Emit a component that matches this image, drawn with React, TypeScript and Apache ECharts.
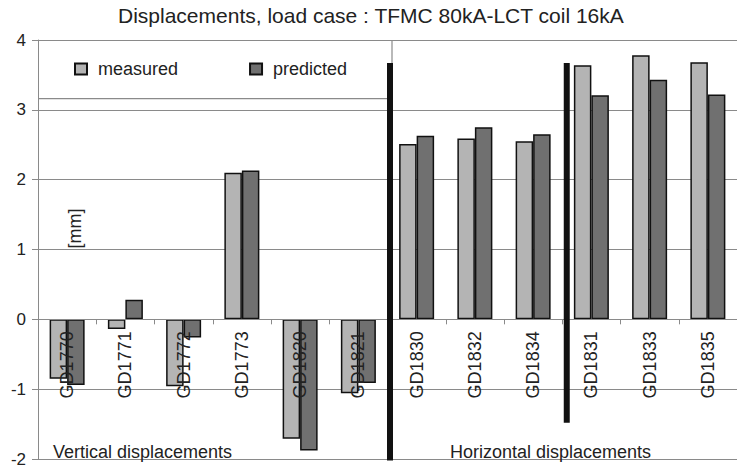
import React, { useEffect, useRef } from "react";
import * as echarts from "echarts";

const categories = [
  "GD1770", "GD1771", "GD1772", "GD1773", "GD1820", "GD1821",
  "GD1830", "GD1832", "GD1834", "GD1831", "GD1833", "GD1835",
];
const measured = [-0.85, -0.14, -0.96, 2.1, -1.71, -1.06, 2.51, 2.59, 2.55, 3.64, 3.78, 3.68];
const predicted = [-0.94, 0.28, -0.26, 2.13, -1.88, -0.91, 2.63, 2.75, 2.65, 3.21, 3.43, 3.22];
const yMin = -2;
const yMax = 4;
const yInterval = 1;
const titleText = "Displacements, load case : TFMC 80kA-LCT coil 16kA";
const unitText = "[mm]";
const groupLabels = ["Vertical displacements", "Horizontal displacements"];
// separators: after category index, top value, bottom value
const separatorAfter = [5, 8];
const separatorTop = [3.67, 3.67];
const separatorBottom = [-2.02, -1.48];
const legendBoxBottomValue = 3.16;

const FONT = "'Liberation Sans', Arial, Helvetica, sans-serif";
const TEXT = "#222";
const GRIDC = "#8a8a8a";

const GRID_TOP = 40;
const GRID_BOTTOM = 9;
const HEIGHT = 468;

export default function App() {
  const ref = useRef<HTMLDivElement>(null);
  useEffect(() => {
    if (!ref.current) return;
    const chart = echarts.init(ref.current, null, { renderer: "svg" });
    const gridH = HEIGHT - GRID_TOP - GRID_BOTTOM;
    const zeroOffset = ((0 - yMin) / (yMax - yMin)) * gridH;
    const option: any = {
      animation: false,
      backgroundColor: "#fff",
      textStyle: { fontFamily: FONT },
      title: {
        text: titleText,
        left: 118,
        top: 5,
        padding: 0,
        textStyle: { fontFamily: FONT, fontSize: 21, fontWeight: "normal", color: TEXT },
      },
      legend: {
        left: 74,
        top: 60,
        padding: 0,
        itemWidth: 12,
        itemHeight: 11,
        itemGap: 71,
        icon: "rect",
        textStyle: { fontFamily: FONT, fontSize: 18, color: TEXT, padding: [0, 0, 0, 6] },
        data: ["measured", "predicted"],
      },
      grid: {
        left: 38,
        right: 0,
        top: GRID_TOP,
        bottom: GRID_BOTTOM,
        containLabel: false,
        outerBoundsMode: "none",
      },
      xAxis: {
        type: "category",
        data: categories,
        z: 10,
        position: "bottom",
        offset: -zeroOffset,
        axisLine: { onZero: false, lineStyle: { color: GRIDC, width: 1 } },
        axisTick: { show: true, length: 5, lineStyle: { color: GRIDC } },
        axisLabel: {
          rotate: 90,
          interval: 0,
          margin: 12,
          fontSize: 18,
          fontFamily: FONT,
          color: TEXT,
          hideOverlap: false,
        },
        splitLine: { show: false },
      },
      yAxis: {
        type: "value",
        min: yMin,
        max: yMax,
        interval: yInterval,
        axisLine: { show: true, lineStyle: { color: GRIDC } },
        axisTick: { show: true, length: 6, lineStyle: { color: GRIDC } },
        axisLabel: { fontSize: 17, fontFamily: FONT, color: TEXT, margin: 12 },
        splitLine: { show: true, lineStyle: { color: GRIDC, width: 1 } },
      },
      series: [
        {
          name: "measured",
          type: "bar",
          data: measured,
          barWidth: 17.5,
          barGap: "0%",
          itemStyle: { color: "#b4b4b4", borderColor: "#111", borderWidth: 1.5 },
        },
        {
          name: "predicted",
          type: "bar",
          data: predicted,
          barWidth: 17.5,
          barGap: "0%",
          itemStyle: { color: "#707070", borderColor: "#111", borderWidth: 1.5 },
        },
      ],
    };
    chart.setOption(option);

    const px = (i: number, v: number) =>
      chart.convertToPixel({ gridIndex: 0 }, [i, v]) as number[];
    const offsets = [2.5, 4.5];
    const graphics: any[] = [];
    const sepX: number[] = [];
    separatorAfter.forEach((a, k) => {
      const x = (px(a, 0)[0] + px(a + 1, 0)[0]) / 2 + offsets[k];
      sepX.push(x);
      const yt = px(a, separatorTop[k])[1];
      const yb = px(a, separatorBottom[k])[1];
      graphics.push({
        type: "rect",
        z: 20,
        shape: { x: x - 3, y: yt, width: 6, height: yb - yt },
        style: { fill: "#111" },
      });
    });
    const gridLeft = px(0, 0)[0] - (px(1, 0)[0] - px(0, 0)[0]) / 2;
    const yBox = px(0, legendBoxBottomValue)[1];
    const yTop = px(0, yMax)[1];
    graphics.push({
      type: "line",
      z: 15,
      shape: { x1: gridLeft, y1: yBox, x2: sepX[0] + 2, y2: yBox },
      style: { stroke: GRIDC, lineWidth: 1.2 },
    });
    graphics.push({
      type: "line",
      z: 15,
      shape: { x1: sepX[0] + 2, y1: yTop, x2: sepX[0] + 2, y2: yBox },
      style: { stroke: GRIDC, lineWidth: 1.2 },
    });
    // unit label
    const unitPos = px(0, 1.3);
    graphics.push({
      type: "text",
      z: 15,
      x: unitPos[0] + 8,
      y: unitPos[1],
      rotation: Math.PI / 2,
      style: {
        text: unitText,
        fontSize: 18,
        fontFamily: FONT,
        fill: TEXT,
        textAlign: "center",
        textVerticalAlign: "middle",
      },
    });
    const yBottom = px(0, yMin)[1];
    graphics.push({
      type: "text",
      z: 15,
      x: gridLeft + 15,
      y: yBottom - 7,
      style: {
        text: groupLabels[0],
        fontSize: 18,
        fontFamily: FONT,
        fill: TEXT,
        textAlign: "left",
        textVerticalAlign: "middle",
      },
    });
    graphics.push({
      type: "text",
      z: 15,
      x: sepX[0] + 60,
      y: yBottom - 7,
      style: {
        text: groupLabels[1],
        fontSize: 18,
        fontFamily: FONT,
        fill: TEXT,
        textAlign: "left",
        textVerticalAlign: "middle",
      },
    });
    chart.setOption({ graphic: graphics });

    return () => chart.dispose();
  }, []);
  return (
    <div
      ref={ref}
      style={{ position: "fixed", left: 0, top: 0, width: 737, height: 468 }}
    />
  );
}
